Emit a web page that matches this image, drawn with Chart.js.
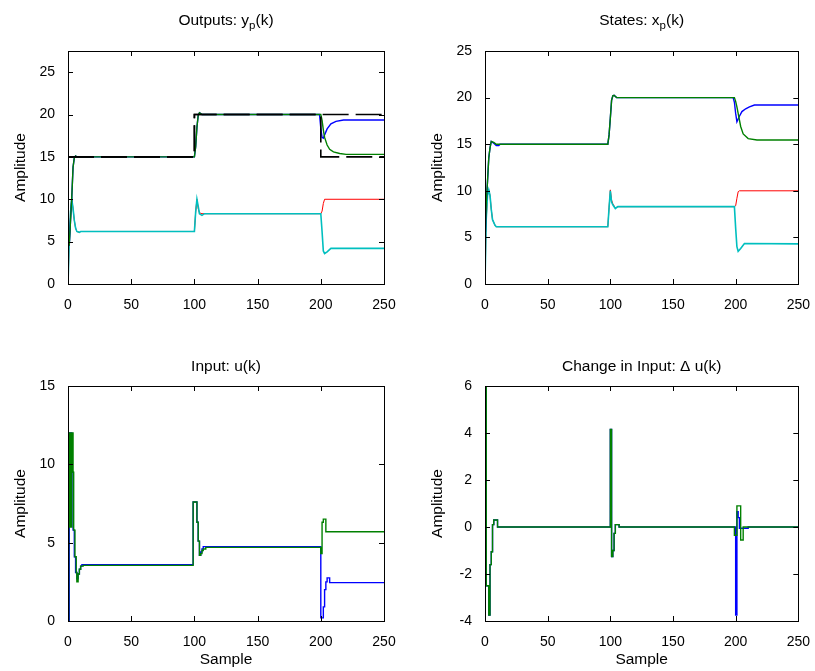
<!DOCTYPE html>
<html>
<head>
<meta charset="utf-8">
<script src="https://cdn.jsdelivr.net/npm/chart.js@4.4.1/dist/chart.umd.min.js"></script>
<style>
  html, body { margin: 0; padding: 0; background: #fff; }
  #page { position: relative; width: 815px; height: 671px; overflow: hidden; background: #fff; }
  canvas { position: absolute; }
</style>
</head>
<body>
<div id="page">
  <canvas id="outputs" width="407" height="335" style="left:0;top:0"></canvas>
  <canvas id="states" width="408" height="335" style="left:407px;top:0"></canvas>
  <canvas id="input" width="407" height="336" style="left:0;top:335px"></canvas>
  <canvas id="delta" width="408" height="336" style="left:407px;top:335px"></canvas>
</div>
<script>
// tick labels
const sampleTicks = [0, 50, 100, 150, 200, 250];
const outputTicks = [0, 5, 10, 15, 20, 25];
const stateTicks = [0, 5, 10, 15, 20, 25];
const inputTicks = [0, 5, 10, 15];
const deltaTicks = [-4, -2, 0, 2, 4, 6];

// outputs y_p(k): [sample, value]
const yBlue = [[0,4.6],[1,4.6],[2,7.5],[3,10.3],[4,13.8],[5,14.9],[6,15.1],[7,15],[100,15],[101,16.2],[102,18.5],[103,19.9],[104,20.2],[105,20.1],[106,20],[199,20],[200,18.4],[201,17.3],[202,17.2],[203,17.6],[205,18.3],[208,18.9],[212,19.2],[218,19.35],[250,19.35]];
const yGreen = [[0,4.6],[1,4.6],[2,7.5],[3,10.3],[4,13.8],[5,14.9],[6,15.1],[7,15],[100,15],[101,16.2],[102,18.5],[103,19.9],[104,20.2],[105,20.1],[106,20],[200,20],[201,19.3],[202,18.2],[203,17.3],[205,16.4],[207,15.9],[210,15.6],[215,15.4],[220,15.3],[250,15.3]];
const yRed = [[0,0],[1,5],[2,8.5],[3,10],[4,8.9],[5,7.5],[6,6.6],[7,6.2],[9,6.1],[10,6.2],[100,6.2],[101,8.5],[102,10],[103,8.9],[104,8.4],[106,8.3],[200,8.3],[201,8.6],[202,9.5],[203,10],[250,10]];
const yCyan = [[0,0],[1,5],[2,8.5],[3,10],[4,8.9],[5,7.5],[6,6.6],[7,6.2],[9,6.1],[10,6.2],[100,6.2],[101,8.5],[102,10],[103,9.2],[104,8.3],[106,8.1],[108,8.3],[200,8.3],[201,6.2],[202,3.9],[203,3.6],[205,3.8],[208,4.2],[250,4.2]];
const refBlue = [[0,15],[100,15],[100,20],[250,20]];
const refGreen = [[0,15],[100,15],[100,20],[200,20],[200,15],[250,15]];

// states x_p(k)
const xBlue = [[0,4.4],[1,8.7],[2,11],[3,13.5],[4,14.6],[5,15.3],[7,15.1],[9,14.85],[11,14.85],[12,15],[98,15],[99,16],[100,17.8],[101,19.7],[102,20.2],[103,20.25],[105,20],[198,20],[199,19.5],[200,18.3],[201,17.4],[203,18],[205,18.5],[208,18.8],[211,19],[215,19.2],[250,19.2]];
const xGreen = [[0,4.4],[1,8.7],[2,11],[3,13.5],[4,14.6],[5,15.3],[7,15.2],[9,15],[98,15],[99,16],[100,17.8],[101,19.7],[102,20.2],[103,20.25],[105,20],[199,20],[200,19.6],[201,19],[202,18.3],[204,16.9],[206,16.1],[210,15.6],[217,15.45],[250,15.45]];
const xRed = [[0,0],[1,7],[2,9.5],[3,10.1],[4,9.5],[5,8],[6,6.9],[8,6.3],[9,6.15],[98,6.15],[99,8.2],[100,10.1],[101,9],[102,8.6],[104,8.15],[106,8.3],[199,8.3],[200,8.4],[201,9.2],[202,9.9],[203,10],[250,10]];
const xCyan = [[0,0],[1,7],[2,9.5],[3,10.1],[4,9.5],[5,8],[6,6.9],[8,6.3],[9,6.15],[98,6.15],[99,8.2],[100,10],[101,8.8],[102,8.5],[104,8.1],[106,8.3],[199,8.3],[200,6],[201,4],[202,3.5],[204,3.8],[207,4.35],[250,4.3]];

// input u(k)
const uBlue = [[0,0],[1,12],[3,9.5],[4,5.8],[5,4.1],[6,3.1],[7,2.7],[8,3],[9,3.3],[10,3.5],[11,3.6],[99,7.6],[102,6.3],[103,5.1],[104,4.2],[105,4.4],[106,4.6],[107,4.75],[200,0.2],[202,0.9],[203,2],[204,2.5],[205,2.75],[207,2.45],[250,2.45]];
const uGreen = [[0,0],[0.5,6],[1,12],[2,6],[3,12],[4,9.5],[4.5,5.8],[5.5,4.1],[6.5,3.1],[7,2.5],[8,3],[9,3.3],[10,3.5],[12,3.55],[99,7.6],[102,6.3],[103,5.1],[104,4.2],[105,4.3],[106,4.5],[107,4.6],[109,4.7],[200,4.3],[201,6.3],[202,6.5],[204,5.7],[250,5.7]];

// change in input du(k)
const duBlue = [[0,6],[1,-2.5],[2,-2.5],[3,-3.75],[4,-1.6],[5,-1.05],[6,0.1],[7,0.3],[9,0.3],[10,0],[100,4.15],[101,-1.26],[102,-1],[103,-0.27],[104,0.1],[106,0.1],[107,0],[200,-3.75],[201,0.65],[202,0.4],[203,-0.05],[210,0],[250,0]];
const duGreen = [[0,6],[1,-2.5],[3,-3.75],[4,-1.6],[5,-1.05],[6,0.1],[7,0.3],[9,0.3],[10,0],[100,4.15],[101,-1.26],[102,-1],[103,-0.27],[104,0.1],[106,0.1],[107,0],[199,-0.35],[201,0.9],[204,-0.55],[206,0],[250,0]];

const FONT = '"Liberation Sans", Arial, sans-serif';

const boxPlugin = {
  id: 'matlabBox',
  afterDatasetsDraw(chart, args, opts) {
    const { ctx, chartArea: a, scales } = chart;
    ctx.save();
    ctx.strokeStyle = '#000';
    ctx.lineWidth = 1;
    ctx.beginPath();
    scales.x.ticks.forEach(t => {
      const px = Math.round(scales.x.getPixelForValue(t.value)) + 0.5;
      ctx.moveTo(px, a.bottom); ctx.lineTo(px, a.bottom - 5);
      ctx.moveTo(px, a.top); ctx.lineTo(px, a.top + 5);
    });
    scales.y.ticks.forEach(t => {
      const py = Math.round(scales.y.getPixelForValue(t.value)) + 0.5;
      ctx.moveTo(a.left, py); ctx.lineTo(a.left + 5, py);
      ctx.moveTo(a.right, py); ctx.lineTo(a.right - 5, py);
    });
    ctx.stroke();
    ctx.strokeRect(Math.round(a.left) + 0.5, Math.round(a.top) + 0.5,
      Math.round(a.right - a.left), Math.round(a.bottom - a.top));

    // title with optional subscript
    const parts = opts.parts || [];
    const mainFont = '15.5px ' + FONT;
    const subFont = '11.5px ' + FONT;
    let w = 0;
    parts.forEach(p => { ctx.font = p.sub ? subFont : mainFont; w += ctx.measureText(p.t).width; });
    let x = (a.left + a.right) / 2 - w / 2;
    ctx.fillStyle = '#000';
    ctx.textBaseline = 'alphabetic';
    ctx.textAlign = 'left';
    parts.forEach(p => {
      ctx.font = p.sub ? subFont : mainFont;
      ctx.fillText(p.t, x, opts.y + (p.sub ? 4 : 0));
      x += ctx.measureText(p.t).width;
    });
    ctx.restore();
  }
};

function line(data, color, extra) {
  return Object.assign({
    data: data.map(p => ({ x: p[0], y: p[1] })),
    borderColor: color,
    borderWidth: 1.4,
    pointRadius: 0,
    fill: false,
    tension: 0
  }, extra || {});
}

function makeChart(id, datasets, o) {
  new Chart(document.getElementById(id), {
    type: 'line',
    data: { datasets: datasets },
    plugins: [boxPlugin],
    options: {
      responsive: false,
      animation: false,
      events: [],
      layout: { padding: o.padding },
      plugins: {
        legend: { display: false },
        tooltip: { enabled: false },
        matlabBox: { parts: o.title, y: o.titleY }
      },
      scales: {
        x: {
          type: 'linear',
          min: 0, max: 250,
          afterBuildTicks: s => { s.ticks = sampleTicks.map(v => ({ value: v })); },
          afterFit: s => { s.height = o.xHeight; },
          grid: { display: false },
          border: { display: false },
          ticks: { color: '#000', font: { family: FONT, size: 14 }, padding: 5, maxRotation: 0, autoSkip: false },
          title: o.xTitle ? { display: true, text: o.xTitle, color: '#000', font: { family: FONT, size: 15.5 }, padding: { top: 0, bottom: 2 } } : { display: false }
        },
        y: {
          type: 'linear',
          min: o.yMin, max: o.yMax,
          afterBuildTicks: s => { s.ticks = o.yTicks.map(v => ({ value: v })); },
          afterFit: s => { s.width = 68; },
          grid: { display: false },
          border: { display: false },
          ticks: { color: '#000', font: { family: FONT, size: 14 }, padding: 5, autoSkip: false },
          title: { display: true, text: 'Amplitude', color: '#000', font: { family: FONT, size: 15.5 }, padding: { top: 11, bottom: 0 } }
        }
      }
    }
  });
}

const BLUE = '#0000ff', GREEN = '#008000', RED = '#ff0000', CYAN = '#00bfbf', BLACK = '#000000';

makeChart('outputs', [
  line(refBlue, BLACK, { borderDash: [26, 7], borderWidth: 1.6 }),
  line(refGreen, BLACK, { borderDash: [26, 7], borderWidth: 1.6 }),
  line(yGreen, GREEN),
  line(yBlue, BLUE),
  line(yCyan, CYAN, { borderWidth: 1.6 }),
  line(yRed, RED, { borderWidth: 1 })
], { padding: { left: 0, right: 23, top: 51, bottom: 0 }, xHeight: 51, yMin: 0, yMax: 27.5, yTicks: outputTicks,
     title: [{ t: 'Outputs: y' }, { t: 'p', sub: true }, { t: '(k)' }], titleY: 25 });

makeChart('states', [
  line(xGreen, GREEN),
  line(xBlue, BLUE),
  line(xCyan, CYAN, { borderWidth: 1.6 }),
  line(xRed, RED, { borderWidth: 1 })
], { padding: { left: 10, right: 16, top: 51, bottom: 0 }, xHeight: 51, yMin: 0, yMax: 25, yTicks: stateTicks,
     title: [{ t: 'States: x' }, { t: 'p', sub: true }, { t: '(k)' }], titleY: 25 });

makeChart('input', [
  line(uGreen, GREEN, { stepped: true }),
  line(uBlue, BLUE, { stepped: true })
], { padding: { left: 0, right: 23, top: 51, bottom: 0 }, xHeight: 50, yMin: 0, yMax: 15, yTicks: inputTicks, xTitle: 'Sample',
     title: [{ t: 'Input: u(k)' }], titleY: 36 });

makeChart('delta', [
  line(duGreen, GREEN, { stepped: true }),
  line(duBlue, BLUE, { stepped: true })
], { padding: { left: 10, right: 16, top: 51, bottom: 0 }, xHeight: 50, yMin: -4, yMax: 6, yTicks: deltaTicks, xTitle: 'Sample',
     title: [{ t: 'Change in Input: \u0394 u(k)' }], titleY: 36 });
</script>
</body>
</html>
